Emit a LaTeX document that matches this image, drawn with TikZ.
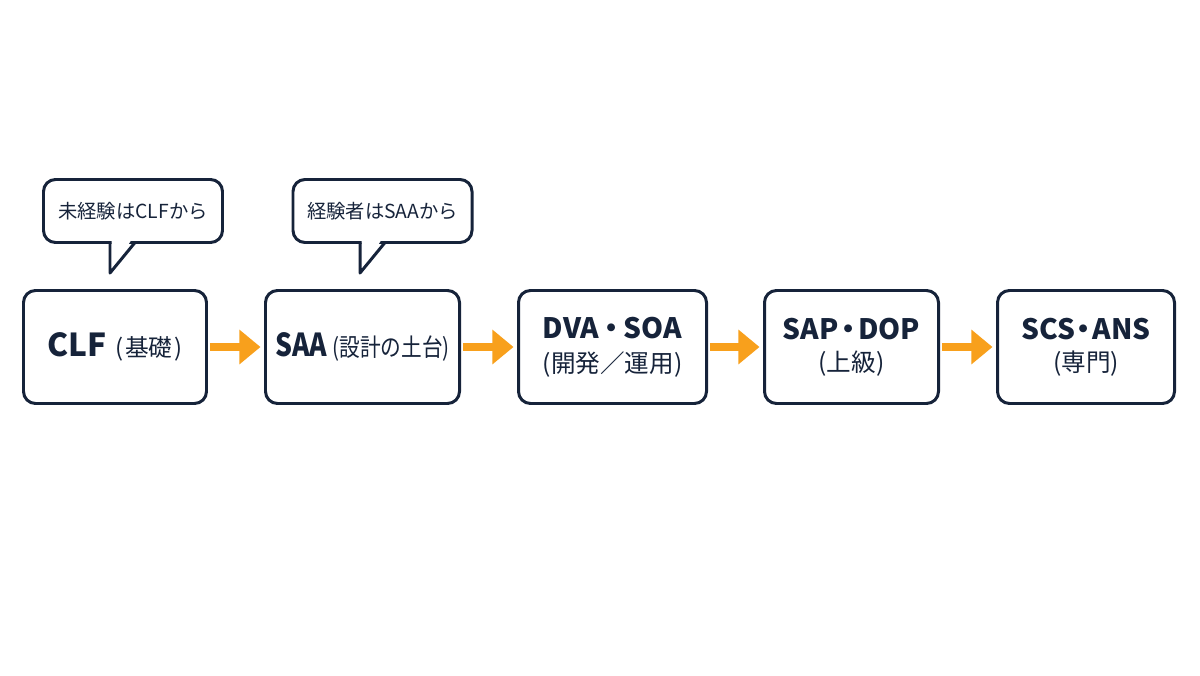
\documentclass[tikz,border=0pt]{standalone}
\usepackage{fontspec}
\setmainfont{Noto Sans CJK JP}
\newfontfamily\narrowjp[FakeStretch=0.84]{Noto Sans CJK JP}
\usetikzlibrary{arrows.meta, positioning}
\definecolor{certnavy}{RGB}{22,35,58}
\definecolor{certorange}{RGB}{248,160,28}

\begin{document}
\begin{tikzpicture}[
        level/.style={rectangle, draw=certnavy, line width=1.7pt, rounded corners=0.24cm, minimum height=2.26cm, inner sep=0pt, align=center, text=certnavy, fill=white},
        bubble/.style={rectangle, draw=certnavy, line width=1.7pt, rounded corners=0.24cm, minimum width=3.58cm, minimum height=1.26cm, inner sep=0pt, text=certnavy, font=\fontsize{11}{13}\selectfont},
        arrow/.style={-{Triangle[width=19pt,length=12pt]}, line width=4.5pt, certorange, shorten <=1pt, shorten >=2pt}
    ]
        \useasboundingbox (0,0) rectangle (24,13.5);

        % Certification levels from left to right
        \node[level, minimum width=3.66cm] (clf) at (2.30,6.56) {{\bfseries\fontsize{18}{20}\selectfont CLF}\hspace{5pt}{\fontsize{13.5}{16}\selectfont (\kern1pt 基礎\kern1pt)}};
        \node[level, minimum width=3.88cm] (saa) at (7.25,6.56) {\narrowjp{\bfseries\fontsize{18}{20}\selectfont SAA}\hspace{3pt}{\fontsize{14}{16}\selectfont (設計の土台)}};
        \node[level, minimum width=3.76cm] (dvasoa) at (12.25,6.56) {{\bfseries\fontsize{16}{20}\selectfont DVA\kern-1pt・\kern-1pt SOA}\\[6pt]{\fontsize{14}{16}\selectfont (開発／運用)}};
        \node[level, minimum width=3.48cm] (sapdop) at (17.03,6.56) {{\bfseries\fontsize{16}{20}\selectfont SAP\kern-2.5pt・\kern-2.5pt DOP}\\[6pt]{\fontsize{14}{16}\selectfont (上級)}};
        \node[level, minimum width=3.54cm] (scsans) at (21.72,6.56) {{\bfseries\fontsize{16}{20}\selectfont SCS\kern-3pt・\kern-3pt ANS}\\[6pt]{\fontsize{14}{16}\selectfont (専門)}};

        % Arrows between levels
        \draw[arrow] (clf) -- (saa);
        \draw[arrow] (saa) -- (dvasoa);
        \draw[arrow] (dvasoa) -- (sapdop);
        \draw[arrow] (sapdop) -- (scsans);

        % Speech bubbles with entry hints
        \node[bubble] (hintclf) at (2.66,9.28) {未経験はCLFから};
        \node[bubble] (hintsaa) at (7.65,9.28) {経験者はSAAから};

        \coordinate (tipclf) at (2.20,8.04);
        \coordinate (tipsaa) at (7.20,8.04);
        \fill[white] (2.23,8.72) -- (2.23,8.10) -- (2.64,8.72) -- cycle;
        \fill[white] (7.23,8.72) -- (7.23,8.10) -- (7.64,8.72) -- cycle;
        \draw[certnavy, line width=1.7pt, line join=round] (2.20,8.65) -- (tipclf) -- (2.70,8.65);
        \draw[certnavy, line width=1.7pt, line join=round] (7.20,8.65) -- (tipsaa) -- (7.70,8.65);
    \end{tikzpicture}
\end{document}
